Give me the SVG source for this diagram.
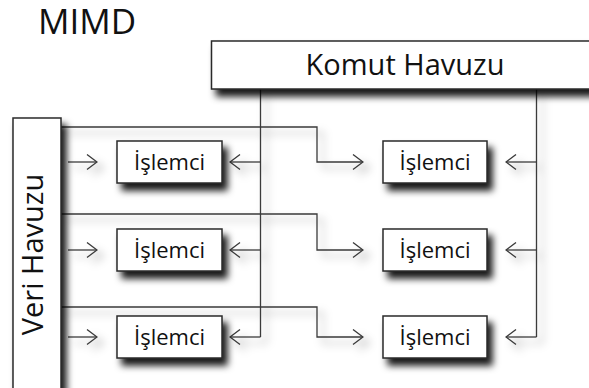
<svg xmlns="http://www.w3.org/2000/svg" width="589" height="388" viewBox="0 0 589 388">
  <style>
    .box { fill: #ffffff; stroke: #2a2a2a; stroke-width: 1.5; }
    .lbl { font-family: "Open Sans", "Noto Sans", "Liberation Sans", sans-serif; fill: #111; }
    .proc { font-size: 22px; text-anchor: middle; }
    .wire { fill: none; stroke: #3a3a3a; stroke-width: 1.3; }
  </style>
  <defs>
    <filter id="boxShadow" x="-20%" y="-20%" width="150%" height="160%">
      <feDropShadow dx="5" dy="7" stdDeviation="3.5" flood-color="#000" flood-opacity="0.9"/>
    </filter>
    <filter id="wireShadow" x="-20%" y="-20%" width="150%" height="150%">
      <feDropShadow dx="6" dy="6" stdDeviation="4" flood-color="#000" flood-opacity="0.35"/>
    </filter>
    <marker id="chev" viewBox="0 0 12 17" refX="11" refY="8.5" markerWidth="12" markerHeight="17" markerUnits="userSpaceOnUse" orient="auto">
      <path d="M1,1 L11,8.5 L1,16" fill="none" stroke="#3a3a3a" stroke-width="1.3"/>
    </marker>
  </defs>

  <text class="lbl" x="38" y="34" font-size="35">MIMD</text>

  <!-- connectors -->
  <g id="connectors" filter="url(#wireShadow)">
    <!-- instruction pool bus -->
    <path class="wire" d="M260.5,89 V337"/>
    <path class="wire" d="M536.5,89 V337"/>
    <path class="wire" d="M260.5,162 H230" marker-end="url(#chev)"/>
    <path class="wire" d="M260.5,250 H230" marker-end="url(#chev)"/>
    <path class="wire" d="M260.5,337 H230" marker-end="url(#chev)"/>
    <path class="wire" d="M536.5,162 H506" marker-end="url(#chev)"/>
    <path class="wire" d="M536.5,250 H506" marker-end="url(#chev)"/>
    <path class="wire" d="M536.5,337 H506" marker-end="url(#chev)"/>
    <!-- data pool feeds -->
    <path class="wire" d="M68,162 H97" marker-end="url(#chev)"/>
    <path class="wire" d="M68,250 H97" marker-end="url(#chev)"/>
    <path class="wire" d="M68,337 H97" marker-end="url(#chev)"/>
    <path class="wire" d="M61,127 H317 V162 H363" marker-end="url(#chev)"/>
    <path class="wire" d="M61,214 H317 V250 H363" marker-end="url(#chev)"/>
    <path class="wire" d="M61,307 H317 V337 H363" marker-end="url(#chev)"/>
  </g>

  <g id="komut-havuzu">
    <rect class="box" x="211.5" y="41" width="390" height="48" filter="url(#boxShadow)"/>
    <text class="lbl" x="405" y="75" font-size="29" text-anchor="middle">Komut Havuzu</text>
  </g>

  <g id="veri-havuzu">
    <rect class="box" x="13" y="118" width="48" height="280" filter="url(#boxShadow)"/>
    <text class="lbl" transform="translate(43,254.5) rotate(-90)" font-size="29" text-anchor="middle">Veri Havuzu</text>
  </g>

  <g id="islemci-1-1">
    <rect class="box" x="117" y="141" width="105" height="42" filter="url(#boxShadow)"/>
    <text class="lbl proc" x="169.5" y="169.5">İşlemci</text>
  </g>
  <g id="islemci-1-2">
    <rect class="box" x="383" y="141" width="104" height="42" filter="url(#boxShadow)"/>
    <text class="lbl proc" x="435" y="169.5">İşlemci</text>
  </g>
  <g id="islemci-2-1">
    <rect class="box" x="117" y="229" width="105" height="42" filter="url(#boxShadow)"/>
    <text class="lbl proc" x="169.5" y="257.5">İşlemci</text>
  </g>
  <g id="islemci-2-2">
    <rect class="box" x="383" y="229" width="104" height="42" filter="url(#boxShadow)"/>
    <text class="lbl proc" x="435" y="257.5">İşlemci</text>
  </g>
  <g id="islemci-3-1">
    <rect class="box" x="117" y="316" width="105" height="42" filter="url(#boxShadow)"/>
    <text class="lbl proc" x="169.5" y="344.5">İşlemci</text>
  </g>
  <g id="islemci-3-2">
    <rect class="box" x="383" y="316" width="104" height="42" filter="url(#boxShadow)"/>
    <text class="lbl proc" x="435" y="344.5">İşlemci</text>
  </g>
</svg>
